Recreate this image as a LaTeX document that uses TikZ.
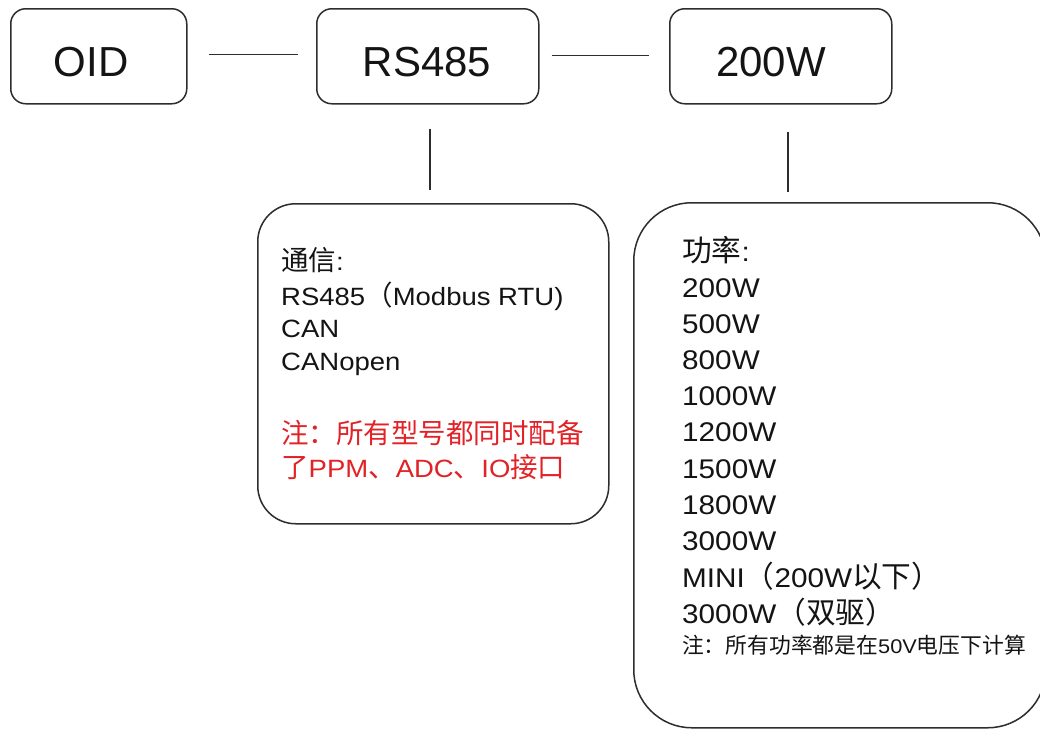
\documentclass[tikz,border=0pt]{standalone}
\usepackage{fontspec}
\setmainfont[FakeStretch=1.1]{Liberation Sans}
\newfontfamily\plainsans{Liberation Sans}
\newfontfamily\cjk[Scale=1.1]{Noto Sans CJK SC}
\newcommand\zh[1]{{\cjk #1}}
\definecolor{ink}{RGB}{20,20,20}
\definecolor{edge}{RGB}{45,45,45}
\definecolor{notered}{RGB}{226,34,38}
\begin{document}
\begin{tikzpicture}[x=1pt,y=-1pt,
  sbox/.style={draw=edge, line width=1.5pt, rounded corners=15pt, anchor=north west, inner sep=0pt},
  bbox/.style={draw=edge, line width=1.5pt, anchor=north west, inner sep=0pt},
  link/.style={draw=edge, line width=1.5pt},
  big/.style={anchor=base, inner sep=0pt, text=ink, font=\plainsans\fontsize{42}{50}\selectfont},
  ctxt/.style={anchor=base west, inner sep=0pt, text=ink, font=\fontsize{25}{30}\selectfont},
  ptxt/.style={anchor=base west, inner sep=0pt, text=ink, font=\fontsize{27}{32}\selectfont},
  ntxt/.style={anchor=base west, inner sep=0pt, text=ink, font=\fontsize{19.8}{23}\selectfont}
]
\useasboundingbox (0,0) rectangle (1040,729);
\fill[white] (0,0) rectangle (1040,729);

% top boxes
\node[sbox, minimum width=176pt, minimum height=95pt] (oid) at (10,8) {};
\node[sbox, minimum width=222pt, minimum height=95pt] (rs) at (316,8) {};
\node[sbox, minimum width=222pt, minimum height=95pt] (pw) at (669,8) {};
\node[big] (oidt) at (91,76) {OID};
\node[big] (rst) at (427,76) {RS485};
\node[big] (pwt) at (771,76) {200W};

% detail boxes
\node[bbox, rounded corners=38pt, minimum width=351pt, minimum height=320pt] (comm) at (257,203) {};
\node[bbox, rounded corners=58pt, minimum width=412pt, minimum height=525pt] (power) at (633,202) {};

% connectors
\draw[link, shorten <=21pt, shorten >=18pt] ([yshift=2pt]oid.east) -- ([yshift=2pt]rs.west);
\draw[link, shorten <=12pt, shorten >=20pt] ([yshift=1pt]rs.east) -- ([yshift=1pt]pw.west);
\draw[link, shorten <=24pt, shorten >=13pt] ([xshift=2pt]rs.south) -- ([xshift=2pt]rs.south |- comm.north);
\draw[link, shorten <=27pt, shorten >=10pt] ([xshift=7pt]pw.south) -- ([xshift=7pt]pw.south |- power.north);

% communication text
\node[ctxt] (c0) at (281,270) {\zh{通信}:};
\node[ctxt] (c1) at (281,305) {RS485\zh{（}Modbus RTU)};
\node[ctxt] (c2) at (281,337) {CAN};
\node[ctxt] (c3) at (281,370) {CANopen};
\node[ctxt, text=notered] (c4) at (281,443) {\zh{注：所有型号都同时配备}};
\node[ctxt, text=notered] (c5) at (281,477) {\zh{了}PPM\zh{、}ADC\zh{、}IO\zh{接口}};

% power text
\node[ptxt] (p0) at (682,261) {\zh{功率}:};
\foreach \t [count=\i from 0] in {200W,500W,800W,1000W,1200W,1500W,1800W,3000W}
  \node[ptxt] (p\i w) at (682,297+36.2*\i) {\t};
\node[ptxt] (p8) at (682,587) {MINI\zh{（}200W\zh{以下）}};
\node[ptxt] (p9) at (682,623) {3000W\zh{（双驱）}};
\node[ntxt] (p10) at (682,653) {\zh{注：所有功率都是在}50V\zh{电压下计算}};
\end{tikzpicture}
\end{document}
